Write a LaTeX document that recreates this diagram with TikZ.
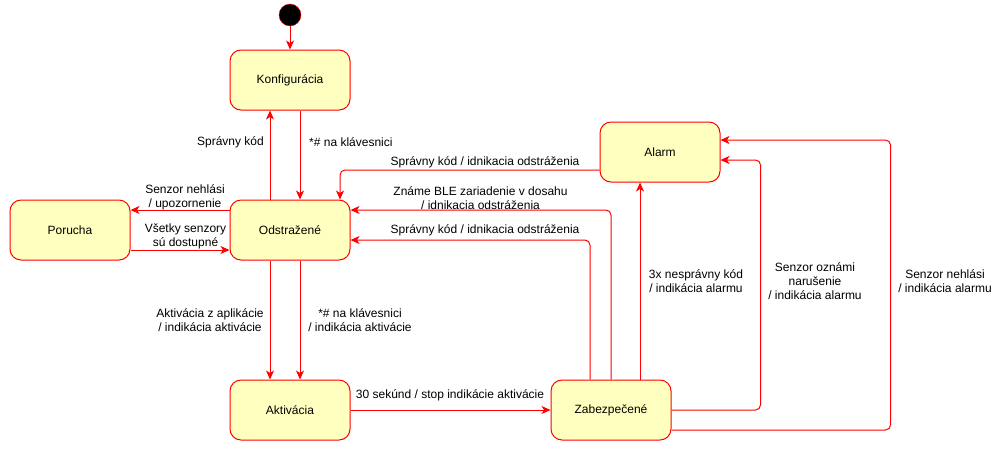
\documentclass[tikz,border=0pt]{standalone}
\usepackage{fontspec}
\setmainfont{Liberation Sans}
\usepackage{xcolor}
\usepackage{tikz}
\usetikzlibrary{positioning, arrows.meta}
\definecolor{stavfill}{HTML}{FFFFC0}

\begin{document}
\begin{tikzpicture}[x=1pt, y=-1pt,
    stav/.style={draw=red, fill=stavfill, line width=1pt, rounded corners=11pt,
        minimum width=120pt, minimum height=60pt, inner sep=0pt,
        font=\fontsize{12}{14}\selectfont},
    hrana/.style={draw=red, line width=1pt, rounded corners=5pt,
        -{Stealth[length=9pt, width=8pt, inset=2.5pt]}},
    popis/.style={font=\fontsize{12}{14}\selectfont, align=center, inner sep=0pt}]
    \useasboundingbox (0,0) rectangle (1001,451);
    \node[circle, draw=red, fill=black, minimum size=22pt, inner sep=0pt] (start) at (290,15) {};
    \node[stav] (konf) at (290,80) {Konfigurácia};
    \node[stav] (por) at (70,230) {Porucha};
    \node[stav] (odst) at (290,230) {Odstražené};
    \node[stav] (akt) at (290,410) {Aktivácia};
    \node[stav] (zab) at (611,410) {Zabezpečené};
    \node[stav] (alarm) at (660,152) {Alarm};

    \draw[hrana] (start) -- (konf);
    \draw[hrana] ([xshift=-20pt]odst.north) -- ([xshift=-20pt]konf.south);
    \draw[hrana] ([xshift=10pt]konf.south) -- ([xshift=10pt]odst.north);
    \draw[hrana] ([yshift=20pt]odst.west) -- ([yshift=20pt]por.east);
    \draw[hrana] ([yshift=-20pt]por.east) -- ([yshift=-20pt]odst.west);
    \draw[hrana] ([yshift=-18pt]alarm.west) -| ([xshift=50pt]odst.north);
    \draw[hrana] (zab.north) |- ([yshift=20pt]odst.east);
    \draw[hrana] ([xshift=-21pt]zab.north) |- ([yshift=-10pt]odst.east);
    \draw[hrana] ([xshift=-20pt]odst.south) -- ([xshift=-20pt]akt.north);
    \draw[hrana] ([xshift=10pt]odst.south) -- ([xshift=10pt]akt.north);
    \draw[hrana] (akt) -- (zab);
    \draw[hrana] ([xshift=29pt]zab.north) -- ([xshift=-20pt]alarm.south);
    \draw[hrana] (zab.east) -- ++(89,0) |- ([yshift=-8pt]alarm.east);
    \draw[hrana] ([yshift=-20pt]zab.east) -- ++(219,0) |- ([yshift=12pt]alarm.east);

    \node[popis, anchor=east] (p1) at (264,142.5) {Správny kód};
    \node[popis, anchor=west] (p2) at (309,142.5) {*\# na klávesnici};
    \node[popis] (p3) at (185,197.5) {Senzor nehlási\\/ upozornenie};
    \node[popis] (p4) at (185.5,236) {Všetky senzory\\sú dostupné};
    \node[popis] (p5) at (485,162.5) {Správny kód / idnikacia odstráženia};
    \node[popis] (p6) at (480.5,197.7) {Známe BLE zariadenie v dosahu\\/ idnikacia odstráženia};
    \node[popis] (p7) at (485,230.7) {Správny kód / idnikacia odstráženia};
    \node[popis] (p8) at (210,320.5) {Aktivácia z aplikácie\\/ indikácia aktivácie};
    \node[popis] (p9) at (360,320.5) {*\# na klávesnici\\/ indikácia aktivácie};
    \node[popis] (p10) at (450,395.7) {30 sekúnd / stop indikácie aktivácie};
    \node[popis] (p11) at (696,280.7) {3x nesprávny kód\\/ indikácia alarmu};
    \node[popis] (p12) at (815,281) {Senzor oznámi\\narušenie\\/ indikácia alarmu};
    \node[popis] (p13) at (945,280.7) {Senzor nehlási\\/ indikácia alarmu};
\end{tikzpicture}
\end{document}
